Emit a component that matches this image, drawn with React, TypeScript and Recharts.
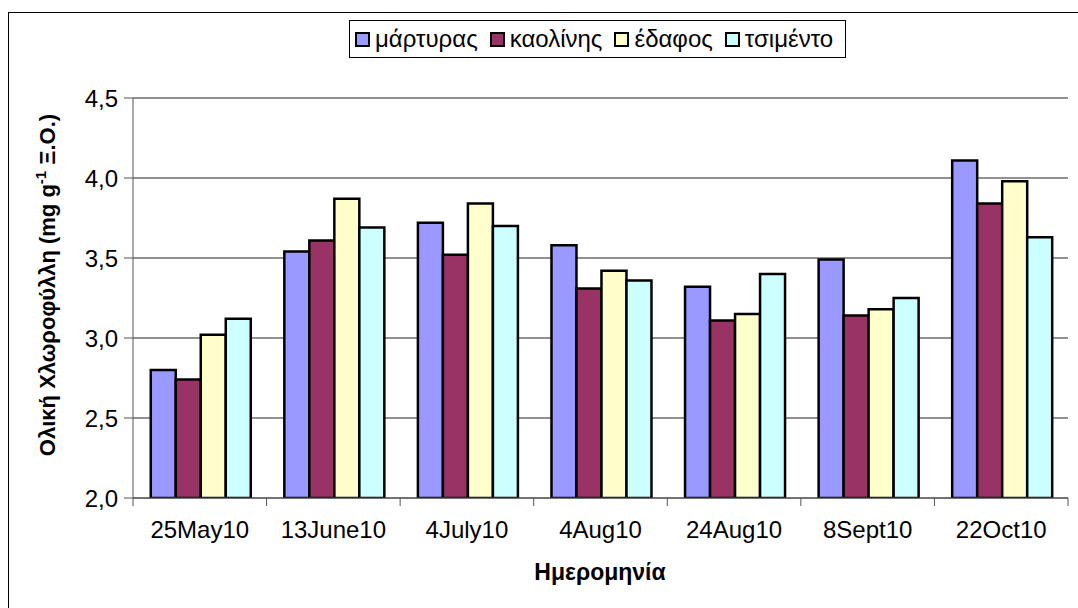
import React from "react";
import { BarChart, Bar, XAxis, YAxis, CartesianGrid } from "recharts";

const dates = ["25May10", "13June10", "4July10", "4Aug10", "24Aug10", "8Sept10", "22Oct10"];
const martyras = [2.8, 3.54, 3.72, 3.58, 3.32, 3.49, 4.11];
const kaolinis = [2.74, 3.61, 3.52, 3.31, 3.11, 3.14, 3.84];
const edafos = [3.02, 3.87, 3.84, 3.42, 3.15, 3.18, 3.98];
const tsimento = [3.12, 3.69, 3.7, 3.36, 3.4, 3.25, 3.63];
const yTicks = [2.0, 2.5, 3.0, 3.5, 4.0, 4.5];

const series = [
  { key: "martyras", name: "μάρτυρας", color: "#9999FF", values: martyras },
  { key: "kaolinis", name: "καολίνης", color: "#993366", values: kaolinis },
  { key: "edafos", name: "έδαφος", color: "#FFFFCC", values: edafos },
  { key: "tsimento", name: "τσιμέντο", color: "#CCFFFF", values: tsimento },
];

const data = dates.map((d, i) => {
  const row: Record<string, string | number> = { date: d };
  series.forEach((s) => {
    row[s.key] = s.values[i];
  });
  return row;
});

const W = 1078;
const H = 608;
const PLOT_LEFT = 133;
const PLOT_RIGHT = 1068;
const BAND = (PLOT_RIGHT - PLOT_LEFT) / dates.length;
const FONT = "'Liberation Sans', Arial, sans-serif";

function DateTick(props: any) {
  const { x, y, payload, index } = props;
  const left = x - BAND / 2;
  return (
    <g>
      <line x1={left} y1={y} x2={left} y2={y + 8} stroke="#555" />
      {index === dates.length - 1 && (
        <line x1={left + BAND} y1={y} x2={left + BAND} y2={y + 8} stroke="#555" />
      )}
      <text x={x} y={y + 40} textAnchor="middle" fontSize={24} fill="#000" fontFamily={FONT}>
        {payload.value}
      </text>
    </g>
  );
}

function YTitle() {
  return (
    <text
      x={55}
      y={285}
      transform="rotate(-90, 55, 285)"
      textAnchor="middle"
      fontSize={22}
      fontWeight="bold"
      fill="#000"
      fontFamily={FONT}
    >
      <tspan>Ολική Χλωροφύλλη (mg g</tspan>
      <tspan dy={-9} fontSize={15}>-1</tspan>
      <tspan dy={9}> Ξ.Ο.)</tspan>
    </text>
  );
}

function XTitle() {
  return (
    <text x={600} y={580} textAnchor="middle" fontSize={23} fontWeight="bold" fill="#000" fontFamily={FONT}>
      Ημερομηνία
    </text>
  );
}

export default function App() {
  return (
    <div style={{ position: "relative", width: W, height: H, background: "#fff", overflow: "hidden", fontFamily: FONT }}>
      <style>{"body{margin:0}"}</style>
      <div
        style={{
          position: "absolute",
          left: 8,
          top: 12,
          width: W,
          height: H,
          border: "1.5px solid #000",
          boxSizing: "border-box",
        }}
      />
      <div style={{ position: "absolute", left: 0, top: 0 }}>
        <BarChart
          width={W}
          height={H}
          data={data}
          margin={{ top: 98, right: W - PLOT_RIGHT, bottom: 70, left: 0 }}
          barCategoryGap="13.3%"
          barGap={0}
        >
          <CartesianGrid vertical={false} stroke="#222" strokeWidth={1} />
          <XAxis
            dataKey="date"
            height={40}
            axisLine={{ stroke: "#555" }}
            tickLine={false}
            tickSize={0}
            tickMargin={0}
            tick={<DateTick />}
            interval={0}
            label={{ content: () => <XTitle /> }}
          />
          <YAxis
            width={PLOT_LEFT}
            domain={[2, 4.5]}
            ticks={yTicks}
            allowDataOverflow
            axisLine={{ stroke: "#555" }}
            tickLine={{ stroke: "#555" }}
            tickSize={9}
            tickMargin={6}
            tick={{ fontSize: 24, fill: "#000", fontFamily: FONT }}
            tickFormatter={(v: number) => v.toFixed(1).replace(".", ",")}
            label={{ content: () => <YTitle /> }}
          />
          {series.map((s) => (
            <Bar
              key={s.key}
              dataKey={s.key}
              name={s.name}
              fill={s.color}
              stroke="#000"
              strokeWidth={2.5}
              isAnimationActive={false}
            />
          ))}
        </BarChart>
      </div>
      <div
        style={{
          position: "absolute",
          left: 349,
          top: 20,
          width: 497,
          height: 38,
          border: "1px solid #000",
          boxSizing: "border-box",
          display: "flex",
          alignItems: "center",
          paddingLeft: 5,
          fontSize: 24,
          color: "#000",
          background: "#fff",
          whiteSpace: "nowrap",
        }}
      >
        {series.map((s) => (
          <div key={s.key} style={{ display: "flex", alignItems: "center", marginRight: 12 }}>
            <span
              style={{
                display: "inline-block",
                width: 11,
                height: 11,
                background: s.color,
                border: "2px solid #000",
                marginRight: 5,
              }}
            />
            <span>{s.name}</span>
          </div>
        ))}
      </div>
    </div>
  );
}
